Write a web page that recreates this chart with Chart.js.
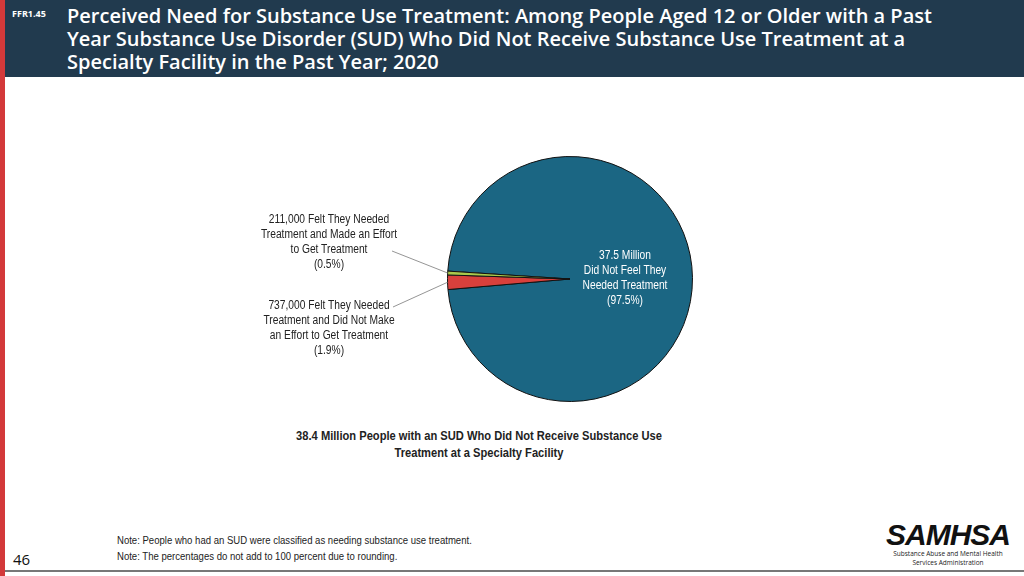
<!DOCTYPE html>
<html>
<head>
<meta charset="utf-8">
<script src="https://cdn.jsdelivr.net/npm/chart.js@4.4.1/dist/chart.umd.min.js"></script>
<style>
  html, body { margin:0; padding:0; width:1024px; height:576px; overflow:hidden; background:#fff; }
  #page { position:relative; width:1024px; height:576px; }
  #redbar { position:absolute; left:0; top:0; width:5px; height:576px; background:#d3393a; }
  #header { position:absolute; left:5px; top:0; width:1019px; height:77px; background:#213a4e; }
  #code { position:absolute; left:12px; top:7px; color:#fff; font:bold 9px "Open Sans", sans-serif; }
  .tl { position:absolute; left:67px; color:#fff; font:600 20px/22px "Open Sans", sans-serif; white-space:nowrap; }
  .nar { font-family:"Liberation Sans", Arial, sans-serif; }
  .lbl { position:absolute; text-align:center; font-size:12.5px; line-height:15px; color:#222; white-space:nowrap; transform:translateX(-50%) scaleX(0.82); }
  #caption { position:absolute; left:479px; top:428px; transform:translateX(-50%) scaleX(0.825); text-align:center; font-weight:bold; font-size:13.5px; line-height:16.5px; color:#222; white-space:nowrap; }
  #notes { position:absolute; left:117px; top:532px; font-size:10.5px; line-height:16px; color:#222; white-space:nowrap; transform-origin:0 0; transform:scaleX(0.91); }
  #pagenum { position:absolute; left:13px; top:549px; font:15px "Open Sans", sans-serif; color:#111; }
  #bottomline { position:absolute; left:5px; top:570px; width:1019px; height:2px; background:#777; }
  #logo { position:absolute; left:882px; top:519px; width:132px; text-align:center; }
  #logo .big { font:italic bold 30px/31px "Liberation Sans","Arial",sans-serif; color:#111; letter-spacing:-1px; }
  #logo .small { font:6.5px/8.5px "Open Sans",sans-serif; color:#222; }
  #chartbox { position:absolute; left:380px; top:146px; width:380px; height:266px; }
</style>
</head>
<body>
<div id="page">
  <div id="header"></div>
  <div id="redbar"></div>
  <div id="code">FFR1.45</div>
  <div class="tl" style="top:5px;">Perceived Need for Substance Use Treatment: Among People Aged 12 or Older with a Past</div>
  <div class="tl" style="top:28px;">Year Substance Use Disorder (SUD) Who Did Not Receive Substance Use Treatment at a</div>
  <div class="tl" style="top:51px;">Specialty Facility in the Past Year; 2020</div>
  <div id="chartbox"><canvas id="c" width="380" height="266"></canvas></div>
  <div id="lblGreen" class="lbl nar" style="left:329px; top:212px;"></div>
  <div id="lblRed" class="lbl nar" style="left:329px; top:298px;"></div>
  <div id="lblBlue" class="lbl nar" style="left:625px; top:248px; color:#fff;"></div>
  <div id="caption" class="nar">38.4 Million People with an SUD Who Did Not Receive Substance Use<br>Treatment at a Specialty Facility</div>
  <div id="notes" class="nar">Note: People who had an SUD were classified as needing substance use treatment.<br>Note: The percentages do not add to 100 percent due to rounding.</div>
  <div id="pagenum">46</div>
  <div id="bottomline"></div>
  <div id="logo"><div class="big">SAMHSA</div><div class="small">Substance Abuse and Mental Health<br>Services Administration</div></div>
</div>
<script>
// ---- data ----
const categories = [
  'Did Not Feel They Needed Treatment',
  'Felt They Needed Treatment and Did Not Make an Effort to Get Treatment',
  'Felt They Needed Treatment and Made an Effort to Get Treatment'
];
const percents = [97.5, 1.9, 0.5];
const counts = ['37.5 Million', '737,000', '211,000'];
const sliceColors = ['#1b6683', '#d8403c', '#a9c94c'];

// label texts built from the data
document.getElementById('lblBlue').innerHTML = counts[0] + '<br>Did Not Feel They<br>Needed Treatment<br>(' + percents[0].toFixed(1) + '%)';
document.getElementById('lblRed').innerHTML = counts[1] + ' Felt They Needed<br>Treatment and Did Not Make<br>an Effort to Get Treatment<br>(' + percents[1].toFixed(1) + '%)';
document.getElementById('lblGreen').innerHTML = counts[2] + ' Felt They Needed<br>Treatment and Made an Effort<br>to Get Treatment<br>(' + percents[2].toFixed(1) + '%)';

// leader lines from label anchors (canvas coords) to slice mid-angle on the rim
const leaderAnchors = { 1: [13, 161], 2: [12, 105] };
const leaderPlugin = {
  id: 'leaders',
  afterDatasetsDraw(chart) {
    const ctx = chart.ctx;
    const meta = chart.getDatasetMeta(0);
    ctx.save();
    ctx.strokeStyle = '#7a7a7a';
    ctx.lineWidth = 0.8;
    Object.keys(leaderAnchors).forEach(k => {
      const arc = meta.data[k];
      const mid = (arc.startAngle + arc.endAngle) / 2;
      const ex = arc.x + Math.cos(mid) * arc.outerRadius;
      const ey = arc.y + Math.sin(mid) * arc.outerRadius;
      ctx.beginPath();
      ctx.moveTo(leaderAnchors[k][0], leaderAnchors[k][1]);
      ctx.lineTo(ex, ey);
      ctx.stroke();
    });
    ctx.restore();
  }
};

new Chart(document.getElementById('c'), {
  type: 'pie',
  data: {
    labels: categories,
    datasets: [{
      data: percents,
      backgroundColor: sliceColors,
      borderColor: '#111',
      borderWidth: 1
    }]
  },
  options: {
    responsive: false,
    animation: false,
    rotation: 273.7,
    layout: { padding: { left: 67, right: 67, top: 10, bottom: 10 } },
    plugins: { legend: { display: false }, tooltip: { enabled: false } }
  },
  plugins: [leaderPlugin]
});
</script>
</body>
</html>
